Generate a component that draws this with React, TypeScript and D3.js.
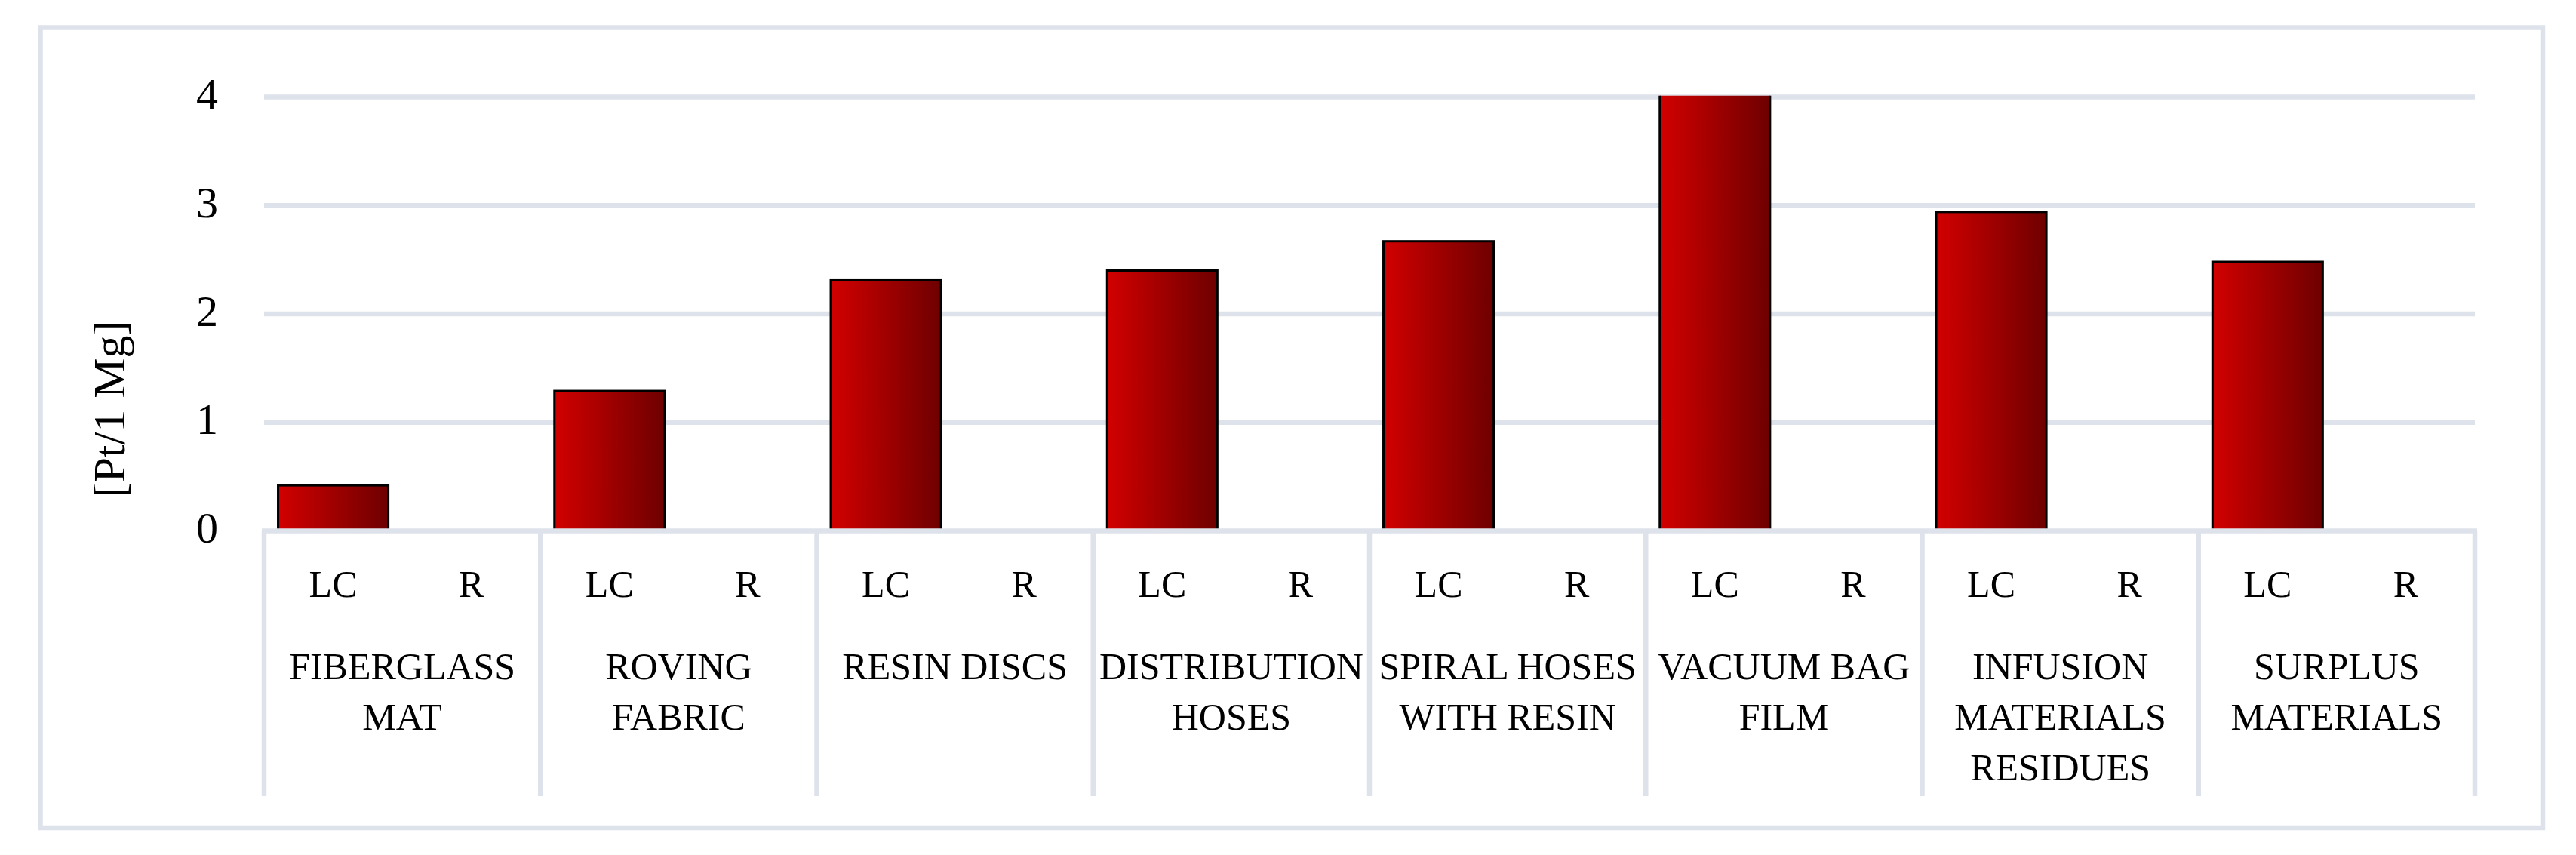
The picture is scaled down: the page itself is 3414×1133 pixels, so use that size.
import React from "react";
import * as d3 from "d3";

const categories: string[][] = [
  ["FIBERGLASS", "MAT"],
  ["ROVING", "FABRIC"],
  ["RESIN DISCS"],
  ["DISTRIBUTION", "HOSES"],
  ["SPIRAL HOSES", "WITH RESIN"],
  ["VACUUM BAG", "FILM"],
  ["INFUSION", "MATERIALS", "RESIDUES"],
  ["SURPLUS", "MATERIALS"],
];
const subCategories = ["LC", "R"];
const lcValues = [0.42, 1.29, 2.31, 2.4, 2.67, 4.2, 2.94, 2.48];
const rValues = [0, 0, 0, 0, 0, 0, 0, 0];
const yTicks = [0, 1, 2, 3, 4];
const yTitle = "[Pt/1 Mg]";

const W = 3414;
const H = 1133;
const GRAY = "#dee2ea";
const FONT = "'Liberation Serif', 'Times New Roman', serif";

export default function App() {
  const catKeys = categories.map((c) => c.join(" "));
  const x0 = d3.scaleBand<string>().domain(catKeys).range([350, 3280]).padding(0);
  const x1 = d3
    .scaleBand<string>()
    .domain(subCategories)
    .range([0, x0.bandwidth()])
    .paddingInner(0.186)
    .paddingOuter(0.093);
  const y = d3.scaleLinear().domain([0, 4]).range([703.5, 128.5]);

  const bars: { key: string; sub: string; v: number }[] = [];
  catKeys.forEach((k, i) => {
    bars.push({ key: k, sub: "LC", v: lcValues[i] });
    bars.push({ key: k, sub: "R", v: rValues[i] });
  });

  const plotLeft = x0.range()[0];
  const plotRight = x0.range()[1];
  const bw = x1.bandwidth();

  return (
    <svg
      width={W}
      height={H}
      style={{ position: "absolute", left: 0, top: 0, background: "#fff" }}
      fontFamily={FONT}
    >
      <defs>
        <linearGradient id="barGrad" x1="0" x2="1" y1="0" y2="0">
          <stop offset="0" stopColor="#d20000" />
          <stop offset="1" stopColor="#6e0000" />
        </linearGradient>
        <clipPath id="plotClip">
          <rect x={plotLeft} y={y(4) - 1.8} width={plotRight - plotLeft} height={y(0) - y(4) + 1.8} />
        </clipPath>
      </defs>
      <rect x={0} y={0} width={W} height={H} fill="#fff" />
      {/* outer border */}
      <rect x={53.5} y={36.5} width={3370 - 53.5} height={1097 - 36.5} fill="none" stroke={GRAY} strokeWidth={6.5} />

      {/* gridlines */}
      {yTicks.slice(1).map((t) => (
        <line key={t} x1={plotLeft} x2={plotRight} y1={y(t)} y2={y(t)} stroke={GRAY} strokeWidth={6.5} />
      ))}

      {/* y tick labels */}
      {yTicks.map((t) => (
        <text key={t} x={289} y={y(t) + 15.5} textAnchor="end" fontSize={58} fill="#000">
          {t}
        </text>
      ))}

      {/* y title */}
      <text
        transform={`translate(165, 542) rotate(-90)`}
        textAnchor="middle"
        fontSize={60}
        fill="#000"
      >
        {yTitle}
      </text>

      {/* bars */}
      <g clipPath="url(#plotClip)">
        {bars
          .filter((b) => b.v > 0)
          .map((b, i) => {
            const bx = (x0(b.key) as number) + (x1(b.sub) as number);
            return (
              <rect
                key={i}
                x={bx + 1.5}
                y={y(b.v)}
                width={bw - 3}
                height={y(0) - y(b.v)}
                fill="url(#barGrad)"
                stroke="#000"
                strokeWidth={3}
              />
            );
          })}
      </g>

      {/* x axis line */}
      <line x1={plotLeft - 3} x2={plotRight + 3} y1={y(0)} y2={y(0)} stroke={GRAY} strokeWidth={6.5} />
      {/* category dividers */}
      {[...catKeys.map((k) => x0(k) as number), plotRight].map((dx, i) => (
        <line key={i} x1={dx} x2={dx} y1={y(0)} y2={1055} stroke={GRAY} strokeWidth={6.5} />
      ))}

      {/* sub category labels */}
      {catKeys.map((k) =>
        subCategories.map((s) => (
          <text
            key={k + s}
            x={(x0(k) as number) + (x1(s) as number) + bw / 2}
            y={791}
            textAnchor="middle"
            fontSize={50}
            fill="#000"
          >
            {s}
          </text>
        ))
      )}

      {/* category labels */}
      {categories.map((lines, i) => (
        <text
          key={i}
          x={(x0(catKeys[i]) as number) + x0.bandwidth() / 2}
          y={900}
          textAnchor="middle"
          fontSize={50}
          fill="#000"
        >
          {lines.map((ln, j) => (
            <tspan key={j} x={(x0(catKeys[i]) as number) + x0.bandwidth() / 2} y={900 + j * 67}>
              {ln}
            </tspan>
          ))}
        </text>
      ))}
    </svg>
  );
}
